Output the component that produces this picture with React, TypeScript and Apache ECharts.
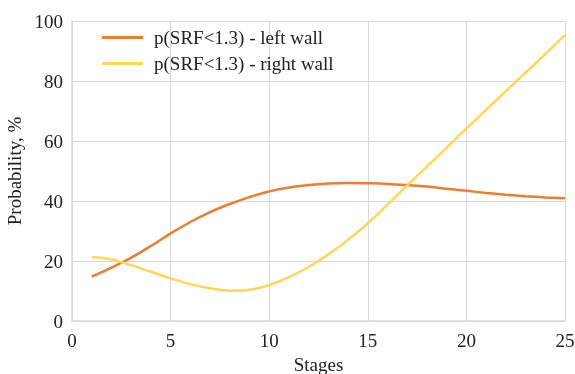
import React, { useEffect, useRef } from "react";
import * as echarts from "echarts";

const stages = [1, 2, 3, 4, 5, 6, 7, 8, 9, 10, 11, 12, 13, 14, 15, 16, 17, 18, 19, 20, 21, 22, 23, 24, 25];
const leftWall = [14.8, 17.8, 21.1, 25.0, 29.2, 33.0, 36.3, 39.0, 41.3, 43.2, 44.5, 45.3, 45.8, 46.0, 45.9, 45.7, 45.3, 44.8, 44.1, 43.4, 42.7, 42.1, 41.6, 41.2, 40.9];
const rightWall = [21.3, 20.5, 18.6, 16.4, 14.2, 12.3, 10.9, 10.1, 10.4, 12.0, 14.6, 18.0, 22.2, 27.1, 32.6, 38.8, 45.2, 51.5, 57.8, 64.2, 70.4, 76.6, 82.8, 89.0, 95.3];
const seriesNames = ["p(SRF<1.3) - left wall", "p(SRF<1.3) - right wall"];

const FONT = "Liberation Serif";

export default function App() {
  const ref = useRef<HTMLDivElement>(null);
  useEffect(() => {
    if (!ref.current) return;
    const chart = echarts.init(ref.current, undefined, { renderer: "svg" });
    chart.setOption({
      animation: false,
      textStyle: { fontFamily: FONT },
      grid: { left: 72, right: 10, top: 21, bottom: 53, outerBoundsMode: "none", containLabel: false },
      legend: {
        orient: "vertical",
        left: 97,
        top: 22,
        itemWidth: 41,
        itemHeight: 3,
        itemGap: 5,
        icon: "rect",
        textStyle: { fontFamily: FONT, fontSize: 19, color: "#222", lineHeight: 21, padding: [0, 0, 0, 6] },
        data: seriesNames,
      },
      xAxis: {
        type: "value",
        min: 0,
        max: 25,
        interval: 5,
        name: "Stages",
        nameLocation: "middle",
        nameGap: 28,
        nameTextStyle: { fontFamily: FONT, fontSize: 19, color: "#222" },
        axisLine: { show: true, lineStyle: { color: "#d9d9d9", width: 1.5 } },
        axisTick: { show: false },
        axisLabel: { fontFamily: FONT, fontSize: 19, color: "#222", margin: 10 },
        splitLine: { show: true, lineStyle: { color: "#d9d9d9", width: 1 } },
      },
      yAxis: {
        type: "value",
        min: 0,
        max: 100,
        interval: 20,
        name: "Probability, %",
        nameLocation: "middle",
        nameGap: 46,
        nameTextStyle: { fontFamily: FONT, fontSize: 19, color: "#222" },
        axisLine: { show: true, lineStyle: { color: "#d9d9d9", width: 1.5 } },
        axisTick: { show: false },
        axisLabel: { fontFamily: FONT, fontSize: 19, color: "#222", margin: 9 },
        splitLine: { show: true, lineStyle: { color: "#d9d9d9", width: 1 } },
      },
      series: [
        {
          name: seriesNames[0],
          type: "line",
          smooth: 0.4,
          showSymbol: false,
          symbol: "none",
          data: stages.map((s, i) => [s, leftWall[i]]),
          lineStyle: { color: "#ED7D31", width: 2.5 },
          itemStyle: { color: "#ED7D31" },
        },
        {
          name: seriesNames[1],
          type: "line",
          smooth: 0.4,
          showSymbol: false,
          symbol: "none",
          data: stages.map((s, i) => [s, rightWall[i]]),
          lineStyle: { color: "#FFD757", width: 2.5 },
          itemStyle: { color: "#FFD757" },
        },
      ],
    });
    return () => chart.dispose();
  }, []);
  return (
    <div
      ref={ref}
      style={{ position: "fixed", left: 0, top: 0, width: 575, height: 374 }}
    />
  );
}
